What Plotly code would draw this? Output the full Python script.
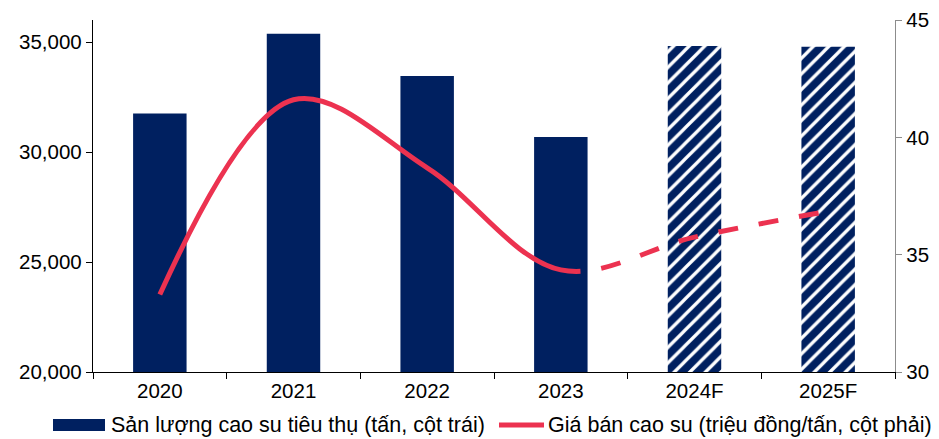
import plotly.graph_objects as go

# Rubber sales volume (tonnes, left axis) and selling price (million VND/tonne, right axis)
years = ["2020", "2021", "2022", "2023", "2024F", "2025F"]
volume = [31750, 35370, 33450, 30680, 34820, 34780]
price = [33.3, 41.6, 38.7, 34.35, 35.75, 36.85]
left_ticks = [20000, 25000, 30000, 35000]
right_ticks = [30, 35, 40, 45]

volume_label = "Sản lượng cao su tiêu thụ (tấn, cột trái)"
price_label = "Giá bán cao su (triệu đồng/tấn, cột phải)"

NAVY = "#002060"
RED = "#EC3250"
FONT = "Liberation Sans, Arial, sans-serif"

W, H = 939, 439
M_L, M_R, M_T, M_B = 93, 44, 20, 67
PLOT_W = W - M_L - M_R
PLOT_H = H - M_T - M_B

# One smoothed price line: solid over the actual years, dashed over the forecast.
# The dash list opens with a long solid run that covers 2020-2023.
SOLID_RUN = 584
DASH, GAP = 20, 21
price_dash = ",".join([f"{SOLID_RUN}px"] + [f"{GAP}px,{DASH}px"] * 12)


def px_x(px):
    """Horizontal pixel position -> paper fraction."""
    return (px - M_L) / PLOT_W


def px_y(py):
    """Vertical pixel position (from top) -> paper fraction."""
    return (H - M_B - py) / PLOT_H


is_forecast = [y.endswith("F") for y in years]

fig = go.Figure()

fig.add_trace(go.Bar(
    x=years,
    y=volume,
    name=volume_label,
    width=0.4,
    marker=dict(
        color=NAVY,
        line=dict(width=0),
        pattern=dict(
            shape=["/" if f else "" for f in is_forecast],
            fgcolor="white",
            bgcolor=NAVY,
            size=11,
            solidity=0.3,
            fillmode="replace",
        ),
    ),
    yaxis="y",
    showlegend=False,
))

fig.add_trace(go.Scatter(
    x=years,
    y=price,
    name=price_label,
    mode="lines",
    line=dict(color=RED, width=5, shape="spline", smoothing=1.0, dash=price_dash),
    yaxis="y2",
    showlegend=False,
))

# Legend drawn below the plot: wide swatches followed by the series names
legend_y = 425
fig.add_shape(type="rect", xref="paper", yref="paper",
              x0=px_x(53), x1=px_x(105), y0=px_y(431), y1=px_y(419),
              fillcolor=NAVY, line=dict(width=0))
fig.add_shape(type="line", xref="paper", yref="paper",
              x0=px_x(499), x1=px_x(544), y0=px_y(legend_y), y1=px_y(legend_y),
              line=dict(color=RED, width=5))
fig.add_annotation(text=volume_label, xref="paper", yref="paper",
                   x=px_x(109), y=px_y(legend_y), xanchor="left", yanchor="middle",
                   showarrow=False, font=dict(size=21.5, color="black"))
fig.add_annotation(text=price_label, xref="paper", yref="paper",
                   x=px_x(546), y=px_y(legend_y), xanchor="left", yanchor="middle",
                   showarrow=False, font=dict(size=21.5, color="black"))

axis_common = dict(
    showline=True,
    linewidth=1.3,
    ticks="outside",
    ticklen=6,
    tickwidth=1.3,
    showgrid=False,
    zeroline=False,
    tickfont=dict(size=20.5, color="black"),
)

fig.update_layout(
    width=W,
    height=H,
    margin=dict(l=M_L, r=M_R, t=M_T, b=M_B, autoexpand=False),
    paper_bgcolor="white",
    plot_bgcolor="white",
    font=dict(family=FONT, size=20.5, color="black"),
    showlegend=False,
    xaxis=dict(
        type="category",
        categoryorder="array",
        categoryarray=years,
        tickson="boundaries",
        linecolor="black",
        tickcolor="black",
        **axis_common,
    ),
    yaxis=dict(
        range=[20000, 36000],
        tickvals=left_ticks,
        tickformat=",",
        linecolor="black",
        tickcolor="black",
        **axis_common,
    ),
    yaxis2=dict(
        range=[30, 45],
        tickvals=right_ticks,
        overlaying="y",
        side="right",
        linecolor="#8c8c8c",
        tickcolor="#8c8c8c",
        **axis_common,
    ),
)

fig.write_html("out.html")
